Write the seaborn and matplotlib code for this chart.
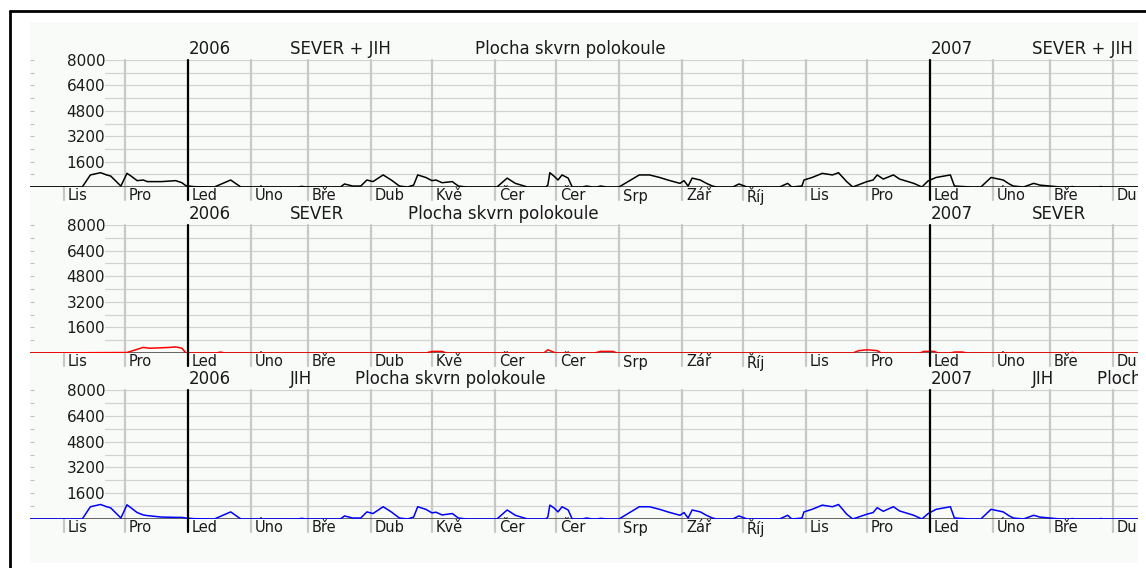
import numpy as np
import pandas as pd
import matplotlib
matplotlib.use("Agg")
import matplotlib.pyplot as plt
import matplotlib.transforms as mtransforms
from matplotlib.patches import Rectangle
from matplotlib.lines import Line2D
import seaborn as sns

# ---------------- data (days counted from 1 January 2006) ----------------
total_days = [-78, -52, -48, -43, -40, -38, -33, -30, -28, -25, -22, -20, -13, -6, -3, -1, 3, 13,
              21, 26, 54, 56, 58, 75, 77, 81, 85, 88, 91, 96, 100, 104, 108, 111, 113, 117, 120,
              122, 125, 130, 133, 137, 152, 157, 161, 167, 176, 177, 178, 180, 182, 184, 187, 189,
              194, 196, 199, 201, 203, 206, 212, 222, 227, 232, 236, 242, 244, 246, 248, 252, 255,
              258, 260, 268, 271, 275, 291, 295, 297, 302, 303, 307, 312, 317, 320, 324, 327, 334,
              337, 339, 342, 347, 350, 357, 361, 364, 368, 375, 377, 385, 390, 395, 401, 404, 406,
              411, 416, 419, 424, 429, 434, 435, 436, 448, 449, 450, 468]
total_area = [0, 0, 760, 900, 760, 690, 60, 860, 690, 400, 440, 340, 340, 400, 270, 80, 20, 0,
              440, 0, 0, 40, 0, 0, 190, 60, 60, 440, 340, 760, 440, 60, 0, 120, 760, 600, 400,
              440, 270, 340, 60, 0, 0, 560, 230, 0, 0, 120, 900, 690, 440, 760, 560, 0,
              0, 60, 0, 0, 60, 0, 0, 760, 760, 600, 440, 230, 400, 60, 560, 440, 230,
              60, 0, 0, 190, 0, 0, 230, 0, 60, 440, 600, 860, 760, 900, 340, 0, 340,
              440, 760, 500, 760, 500, 230, 0, 380, 600, 760, 60, 0, 0, 600, 440, 190, 60,
              0, 230, 120, 60, 0, 0, 30, 0, 0, 30, 0, 0]

north_days = [-78, -30, -22, -19, -14, -9, -6, -3, -1, 14, 16, 18, 117, 120, 125, 127, 175, 177,
              181, 200, 203, 209, 211, 327, 330, 334, 339, 341, 360, 362, 367, 369, 375, 377,
              381, 383, 434, 435, 436, 468]
north_area = [0, 30, 350, 300, 320, 350, 380, 300, 0, 0, 60, 0, 0, 100, 100, 0, 0, 200,
              0, 0, 100, 100, 0, 0, 150, 200, 150, 0, 0, 100, 100, 0, 0, 60,
              60, 0, 0, 40, 0, 0]

south_days = [-78, -52, -48, -43, -40, -38, -33, -30, -28, -25, -22, -20, -13, -6, -3, -1, 3, 13,
              21, 26, 54, 56, 58, 75, 77, 81, 85, 88, 91, 96, 100, 104, 108, 111, 113, 117, 120,
              122, 125, 130, 133, 137, 152, 157, 161, 167, 176, 177, 178, 180, 182, 184, 187, 189,
              194, 196, 199, 201, 203, 206, 212, 222, 227, 232, 236, 242, 244, 246, 248, 252, 255,
              258, 260, 268, 271, 275, 291, 295, 297, 302, 303, 307, 312, 317, 320, 324, 327, 334,
              337, 339, 342, 347, 350, 357, 361, 364, 368, 375, 377, 385, 390, 395, 401, 404, 406,
              411, 416, 419, 424, 429, 434, 435, 436, 448, 449, 450, 468]
south_area = [0, 0, 760, 900, 760, 690, 60, 880, 690, 400, 250, 210, 120, 100, 100, 60, 20, 0,
              440, 0, 0, 40, 0, 0, 190, 60, 60, 440, 340, 760, 440, 60, 0, 120, 760, 600, 380,
              420, 250, 340, 60, 0, 0, 560, 230, 0, 0, 120, 860, 690, 440, 760, 560, 0,
              0, 60, 0, 0, 40, 0, 0, 760, 760, 600, 440, 230, 400, 60, 560, 440, 230,
              60, 0, 0, 190, 0, 0, 230, 0, 60, 440, 600, 860, 760, 900, 300, 0, 300,
              400, 700, 480, 760, 500, 230, 0, 330, 600, 760, 60, 0, 0, 600, 440, 190, 60,
              0, 230, 120, 60, 0, 0, 30, 0, 0, 30, 0, 0]

month_starts = pd.date_range("2005-10-01", "2007-04-01", freq="MS")
month_labels = ["Říj", "Lis", "Pro", "Led", "Úno", "Bře", "Dub", "Kvě", "Čer", "Čer",
                "Srp", "Zář", "Říj", "Lis", "Pro", "Led", "Úno", "Bře", "Dub"]
year_labels = ["2006", "2007"]
year_starts = pd.to_datetime(["2006-01-01", "2007-01-01"])
panel_names = ["SEVER + JIH", "SEVER", "JIH"]
panel_subtitle = "Plocha skvrn polokoule"
panel_colors = ["#000000", "#ff0000", "#0000ff"]
y_levels = list(range(0, 8001, 800))
y_labeled = [1600, 3200, 4800, 6400, 8000]

origin = pd.Timestamp("2006-01-01")
month_days = [(d - origin).days for d in month_starts]
year_days = [(d - origin).days for d in year_starts]
XMIN, XMAX = -77.7, 467.3

series = [(total_days, total_area), (north_days, north_area), (south_days, south_area)]

# ---------------- figure ----------------
sns.set_theme(style="white")
plt.rcParams["font.family"] = ["DejaVu Sans"]

W, H = 1146, 568
fig = plt.figure(figsize=(W / 100, H / 100), dpi=100)
fig.patch.set_facecolor("white")

bg = Rectangle((30 / W, 1 - 563 / H), (1138 - 30) / W, (563 - 22) / H,
               transform=fig.transFigure, facecolor="#f9fbf9", edgecolor="none", zorder=-5)
fig.add_artist(bg)

# outer frame (left and top)
fig.add_artist(Line2D([9.5 / W, 9.5 / W], [0, 1 - 11 / H], transform=fig.transFigure,
                      color="black", lw=2.0, zorder=10))
fig.add_artist(Line2D([9.5 / W, 1], [1 - 11 / H, 1 - 11 / H], transform=fig.transFigure,
                      color="black", lw=2.0, zorder=10))

tops = [60, 225, 390]
bottoms = [187, 353, 519]
gutter_px = 75
width_px = 1138 - 30

for i in range(3):
    top, bot = tops[i], bottoms[i]
    hpx = bot - top
    ax = fig.add_axes([30 / W, 1 - bot / H, width_px / W, hpx / H])
    ax.set_facecolor("none")
    for s in ax.spines.values():
        s.set_visible(False)
    ax.set_xlim(XMIN, XMAX)
    ax.set_ylim(0, 8000)

    gutter_frac = gutter_px / width_px
    gutter_day = XMIN + gutter_frac * (XMAX - XMIN)

    # horizontal grid
    for lv in y_levels[1:]:
        ax.axhline(lv, xmin=gutter_frac, xmax=1, color="#d2d2d2", lw=0.9, zorder=1)

    # y ticks / labels
    ax.set_yticks(y_levels[1:])
    ax.set_yticklabels([str(v) if v in y_labeled else "" for v in y_levels[1:]])
    ax.tick_params(axis="y", direction="in", length=3, width=0.8, color="#c0c0c0",
                   pad=-54, labelsize=11, labelcolor="#1a1a1a", left=True)
    ax.set_xticks([])

    tick_frac = -13 / hpx
    # month gridlines and ticks
    for d in month_days:
        if d in year_days:
            continue
        if d >= gutter_day:
            ln = ax.axvline(d, ymin=tick_frac, ymax=1, color="#c8c8c8", lw=1.6, zorder=1)
        else:
            ln = ax.axvline(d, ymin=tick_frac, ymax=0, color="#c8c8c8", lw=1.6, zorder=1)
        ln.set_clip_path(bg)
    for d in year_days:
        ln = ax.axvline(d, ymin=tick_frac, ymax=1, color="black", lw=1.6, zorder=6)
        ln.set_clip_path(bg)

    # zero axis
    ax.axhline(0, xmin=0, xmax=1, color="#3a3a3a", lw=1.1, zorder=2)

    # data
    xd, yd = series[i]
    df = pd.DataFrame({"day": xd, "area": yd})
    sns.lineplot(data=df, x="day", y="area", ax=ax, color=panel_colors[i], lw=1.1,
                 zorder=5, estimator=None, sort=True)
    ax.set_xlabel("")
    ax.set_ylabel("")

    # month labels
    blend = mtransforms.blended_transform_factory(ax.transData, ax.transAxes)
    lab_tr = blend + mtransforms.ScaledTranslation(4 / 100, 0, fig.dpi_scale_trans)
    for d, lab in zip(month_days, month_labels):
        t = ax.text(d, -9 / hpx, lab, transform=lab_tr, ha="left", va="center",
                    fontsize=10.5, color="#1a1a1a", clip_on=True)
        t.set_clip_path(bg)

    # titles
    name_offset = 102
    sub_offset = {0: 287, 1: 220, 2: 167}[i]
    for d, ylab in zip(year_days, year_labels):
        for off, txt in [(1, ylab), (name_offset, panel_names[i]), (sub_offset, panel_subtitle)]:
            tr = blend + mtransforms.ScaledTranslation(off / 100, 0, fig.dpi_scale_trans)
            t = ax.text(d, 1 + 11 / hpx, txt, transform=tr, ha="left", va="center",
                        fontsize=12, color="#1a1a1a", clip_on=True)
            t.set_clip_path(bg)

fig.savefig("out.png", dpi=100)
